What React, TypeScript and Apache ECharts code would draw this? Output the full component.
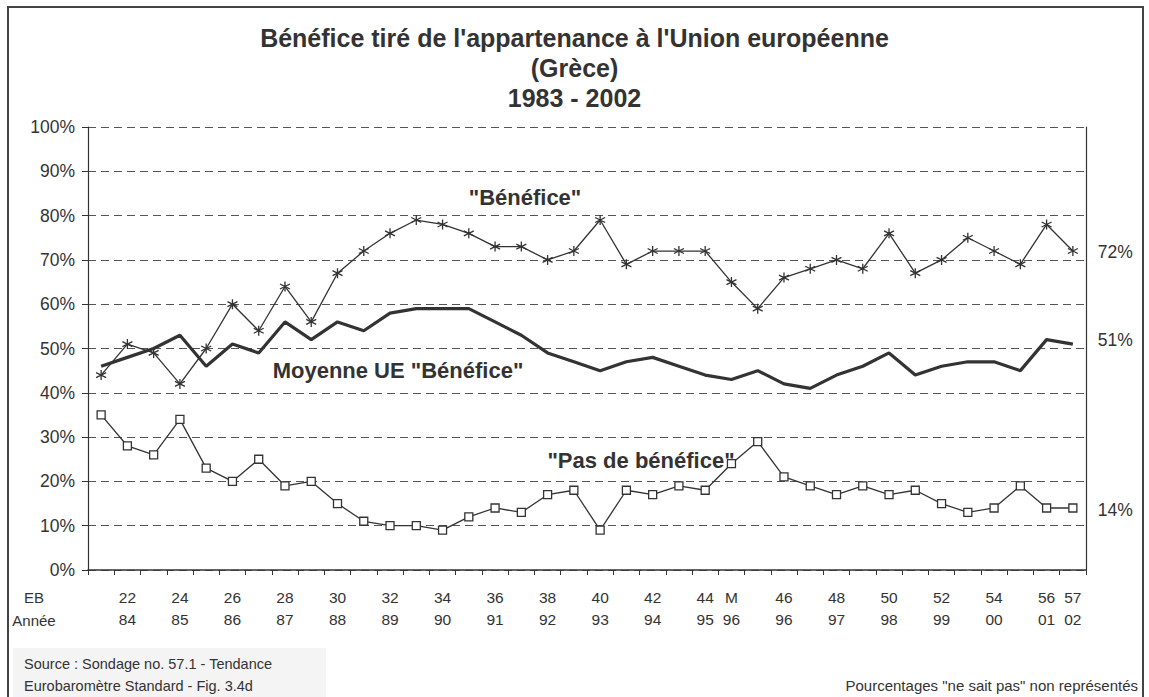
import React, { useEffect, useRef } from "react";
import * as echarts from "echarts";

const ebLabels = ["", "22", "", "24", "", "26", "", "28", "", "30", "", "32", "", "34", "", "36", "", "38", "", "40", "", "42", "", "44", "M", "", "46", "", "48", "", "50", "", "52", "", "54", "", "56", "57"];
const yearLabels = ["", "84", "", "85", "", "86", "", "87", "", "88", "", "89", "", "90", "", "91", "", "92", "", "93", "", "94", "", "95", "96", "", "96", "", "97", "", "98", "", "99", "", "00", "", "01", "02"];
const benefice = [44, 51, 49, 42, 50, 60, 54, 64, 56, 67, 72, 76, 79, 78, 76, 73, 73, 70, 72, 79, 69, 72, 72, 72, 65, 59, 66, 68, 70, 68, 76, 67, 70, 75, 72, 69, 78, 72];
const moyenneUE = [46, 48, 50, 53, 46, 51, 49, 56, 52, 56, 54, 58, 59, 59, 59, 56, 53, 49, 47, 45, 47, 48, 46, 44, 43, 45, 42, 41, 44, 46, 49, 44, 46, 47, 47, 45, 52, 51];
const pasBenefice = [35, 28, 26, 34, 23, 20, 25, 19, 20, 15, 11, 10, 10, 9, 12, 14, 13, 17, 18, 9, 18, 17, 19, 18, 24, 29, 21, 19, 17, 19, 17, 18, 15, 13, 14, 19, 14, 14];
const yTicks = [0, 10, 20, 30, 40, 50, 60, 70, 80, 90, 100];

const FONT = "'Liberation Sans', Arial, sans-serif";
const DARK = "#333";

export default function App() {
  const ref = useRef<HTMLDivElement>(null);
  useEffect(() => {
    const chart = echarts.init(ref.current!, null, { renderer: "svg" });
    const categories = ebLabels.map((_, i) => String(i));
    const asterisk = "path://M5,0L5,10M0.7,2.5L9.3,7.5M0.7,7.5L9.3,2.5";
    chart.setOption({
      animation: false,
      backgroundColor: "#fff",
      textStyle: { fontFamily: FONT },
      title: {
        text: "Bénéfice tiré de l'appartenance à l'Union européenne\n(Grèce)\n1983 - 2002",
        left: "center",
        top: 23,
        padding: 0,
        textStyle: { fontFamily: FONT, fontSize: 25, fontWeight: "bold", lineHeight: 30, color: DARK },
      },
      grid: { left: 88, right: 63, top: 127, bottom: 127 },
      xAxis: {
        type: "category",
        data: categories,
        boundaryGap: true,
        axisLine: { show: true, lineStyle: { color: DARK, width: 1.5 } },
        axisTick: { show: true, interval: 0, length: 5, lineStyle: { color: DARK } },
        axisLabel: {
          interval: 0,
          margin: 16,
          fontSize: 15.5,
          lineHeight: 22,
          color: DARK,
          fontFamily: FONT,
          formatter: (_v: string, i: number) => ebLabels[i] + "\n" + yearLabels[i],
        },
        splitLine: { show: false },
      },
      yAxis: [
        {
          type: "value",
          min: yTicks[0],
          max: yTicks[yTicks.length - 1],
          interval: 10,
          axisLine: { show: true, lineStyle: { color: DARK, width: 1.2 } },
          axisTick: { show: true, length: 6, lineStyle: { color: DARK } },
          axisLabel: { formatter: "{value}%", fontSize: 17.5, color: DARK, margin: 13, fontFamily: FONT },
          splitLine: { show: true, lineStyle: { color: "#555", type: [8, 5], width: 1 } },
        },
        {
          type: "value",
          position: "right",
          min: 0,
          max: 100,
          interval: 10,
          axisLine: { show: true, lineStyle: { color: DARK, width: 1.2 } },
          axisTick: { show: false },
          axisLabel: { show: false },
          splitLine: { show: false },
        },
      ],
      series: [
        {
          name: '"Bénéfice"',
          type: "line",
          data: benefice,
          symbol: asterisk,
          symbolSize: 10,
          showAllSymbol: true,
          itemStyle: { color: "none", borderColor: DARK, borderWidth: 1.3 },
          lineStyle: { color: DARK, width: 1.3 },
          endLabel: { show: true, formatter: (p: any) => p.value + "%", offset: [17, 1], fontSize: 17.5, color: DARK, fontFamily: FONT },
          z: 3,
        },
        {
          name: 'Moyenne UE "Bénéfice"',
          type: "line",
          data: moyenneUE,
          symbol: "none",
          lineStyle: { color: DARK, width: 3.2 },
          endLabel: { show: true, formatter: (p: any) => p.value + "%", offset: [17, -4], fontSize: 17.5, color: DARK, fontFamily: FONT },
          z: 2,
        },
        {
          name: '"Pas de bénéfice"',
          type: "line",
          data: pasBenefice,
          symbol: "rect",
          symbolSize: 8,
          showAllSymbol: true,
          itemStyle: { color: "#fff", borderColor: DARK, borderWidth: 1.3 },
          lineStyle: { color: DARK, width: 1.3 },
          endLabel: { show: true, formatter: (p: any) => p.value + "%", offset: [17, 2], fontSize: 17.5, color: DARK, fontFamily: FONT },
          z: 3,
        },
      ],
      graphic: [
        { type: "rect", shape: { x: 8, y: 7, width: 1135, height: 700 }, style: { fill: "none", stroke: "#444", lineWidth: 2 }, z: -10, silent: true },
        { type: "rect", shape: { x: 13, y: 648, width: 313, height: 49 }, style: { fill: "#f4f4f4" }, z: -5, silent: true },
        { type: "text", x: 24, y: 664, style: { text: "Source : Sondage no. 57.1 - Tendance", font: `14.5px ${FONT}`, fill: DARK, textVerticalAlign: "middle" } },
        { type: "text", x: 24, y: 686, style: { text: "Eurobaromètre Standard - Fig. 3.4d", font: `14.5px ${FONT}`, fill: DARK, textVerticalAlign: "middle" } },
        { type: "text", x: 1138, y: 685, style: { text: 'Pourcentages "ne sait pas" non représentés', font: `15px ${FONT}`, fill: DARK, textAlign: "right", textVerticalAlign: "middle" } },
        { type: "text", x: 34, y: 597, style: { text: "EB", font: `15px ${FONT}`, fill: DARK, textAlign: "center", textVerticalAlign: "middle" } },
        { type: "text", x: 34, y: 620, style: { text: "Année", font: `15px ${FONT}`, fill: DARK, textAlign: "center", textVerticalAlign: "middle" } },
        { type: "text", x: 525, y: 197, style: { text: '"Bénéfice"', font: `bold 22px ${FONT}`, fill: DARK, textAlign: "center", textVerticalAlign: "middle" } },
        { type: "text", x: 398, y: 370, style: { text: 'Moyenne UE "Bénéfice"', font: `bold 22px ${FONT}`, fill: DARK, textAlign: "center", textVerticalAlign: "middle" } },
        { type: "text", x: 641, y: 460, style: { text: '"Pas de bénéfice"', font: `bold 22px ${FONT}`, fill: DARK, textAlign: "center", textVerticalAlign: "middle" } },
      ],
    });
    return () => chart.dispose();
  }, []);
  return <div ref={ref} style={{ position: "absolute", left: 0, top: 0, width: 1149, height: 697 }} />;
}
